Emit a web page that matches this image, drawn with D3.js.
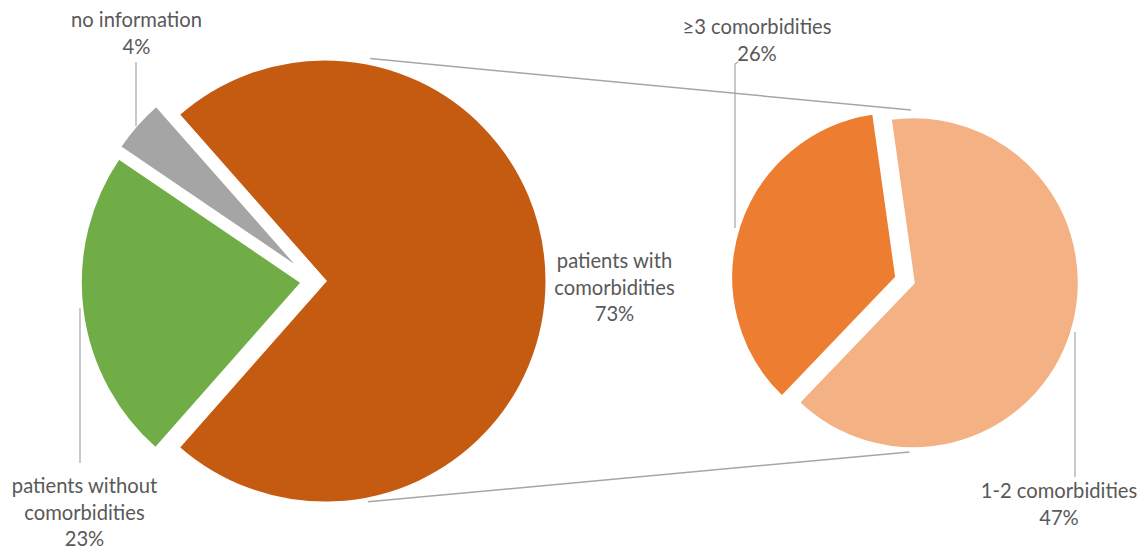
<!DOCTYPE html>
<html>
<head>
<meta charset="utf-8">
<script src="https://cdn.jsdelivr.net/npm/d3@7"></script>
<style>
  html, body { margin: 0; padding: 0; background: #fff; }
  svg { display: block; }
  text { font-family: Lato, "Open Sans", sans-serif; fill: #595959; }
</style>
</head>
<body>
<svg id="chart" width="1143" height="551"></svg>
<script>
// Share of patients (percent of all patients)
const mainLabels = ["patients with\ncomorbidities", "patients without\ncomorbidities", "no information"];
const mainValues = [73, 23, 4];
const mainColors = ["#C55A11", "#70AD47", "#A5A5A5"];

// Breakdown of the "with comorbidities" group (percent of all patients)
const subLabels = ["1-2 comorbidities", "\u22653 comorbidities"];
const subValues = [47, 26];
const subColors = ["#F4B183", "#ED7D31"];

const svg = d3.select("#chart");
const deg = Math.PI / 180;

// Layout of the two pies
const main = { cx: 313.6, cy: 281, r: 222, explode: [11.4, 11.4, 14] };
const sub = { cx: 905, cy: 280, r: 166, explode: [8.7, 8.7] };

// The split slice is centred on 3 o'clock
const splitSpan = mainValues[0] / d3.sum(mainValues) * 2 * Math.PI;
const mainStart = Math.PI / 2 - splitSpan / 2;

const mainPie = d3.pie().sort(null).value(d => d)
  .startAngle(mainStart).endAngle(mainStart + 2 * Math.PI);
const subStart = -8 * deg;
const subPie = d3.pie().sort(null).value(d => d)
  .startAngle(subStart).endAngle(subStart + 2 * Math.PI);

function drawPie(g, pieGen, values, colors, geo) {
  const arc = d3.arc().innerRadius(0).outerRadius(geo.r);
  const arcs = pieGen(values);
  g.selectAll("path").data(arcs).join("path")
    .attr("d", arc)
    .attr("fill", (d, i) => colors[i])
    .attr("stroke", "#fff")
    .attr("stroke-width", 3)
    .attr("stroke-linejoin", "miter")
    .attr("transform", (d, i) => {
      const mid = (d.startAngle + d.endAngle) / 2;
      const e = geo.explode[i];
      return `translate(${geo.cx + e * Math.sin(mid)},${geo.cy - e * Math.cos(mid)})`;
    });
  return arcs;
}

// Connector lines between the pies (drawn first, under the slices)
const splitCx = main.cx + main.explode[0];
const link = d3.line();
function pt(cx, cy, r, a) { return [cx + r * Math.sin(a), cy - r * Math.cos(a)]; }
const connectors = [
  [pt(splitCx, main.cy, main.r + 5, 11.5 * deg), pt(sub.cx, sub.cy, sub.r + 4, 2 * deg)],
  [pt(splitCx, main.cy, main.r + 3, 169 * deg), pt(sub.cx, sub.cy, sub.r + 6, 178.5 * deg)]
];
svg.append("g").selectAll("path").data(connectors).join("path")
  .attr("d", link)
  .attr("fill", "none")
  .attr("stroke", "#A6A6A6")
  .attr("stroke-width", 1.5);

drawPie(svg.append("g"), mainPie, mainValues, mainColors, main);
drawPie(svg.append("g"), subPie, subValues, subColors, sub);

// Data labels: name lines followed by the percentage
const pct = v => `${v}%`;
const labelSpots = [
  { label: mainLabels[0], value: mainValues[0], x: 614.5, y: 268 },
  { label: mainLabels[1], value: mainValues[1], x: 84.5, y: 493 },
  { label: mainLabels[2], value: mainValues[2], x: 136.5, y: 27 },
  { label: subLabels[0], value: subValues[0], x: 1059, y: 498 },
  { label: subLabels[1], value: subValues[1], x: 757, y: 34 }
];
const lineGap = 26.5;
const labels = svg.append("g").attr("font-size", 20.2).attr("text-anchor", "middle");
labelSpots.forEach(s => {
  const lines = s.label.split("\n").concat([pct(s.value)]);
  const t = labels.append("text").attr("x", s.x).attr("y", s.y);
  lines.forEach((ln, i) => {
    t.append("tspan").attr("x", s.x).attr("dy", i === 0 ? 0 : lineGap).text(ln);
  });
});

// Leader lines from labels to slices
const leaders = [
  [[136, 62], [136, 126]],
  [[80, 308], [80, 463]],
  [[738, 62], [735, 64], [735, 228]],
  [[1075, 332], [1075, 477]]
];
svg.append("g").selectAll("path").data(leaders).join("path")
  .attr("d", d3.line())
  .attr("fill", "none")
  .attr("stroke", "#A6A6A6")
  .attr("stroke-width", 1.2);
</script>
</body>
</html>
